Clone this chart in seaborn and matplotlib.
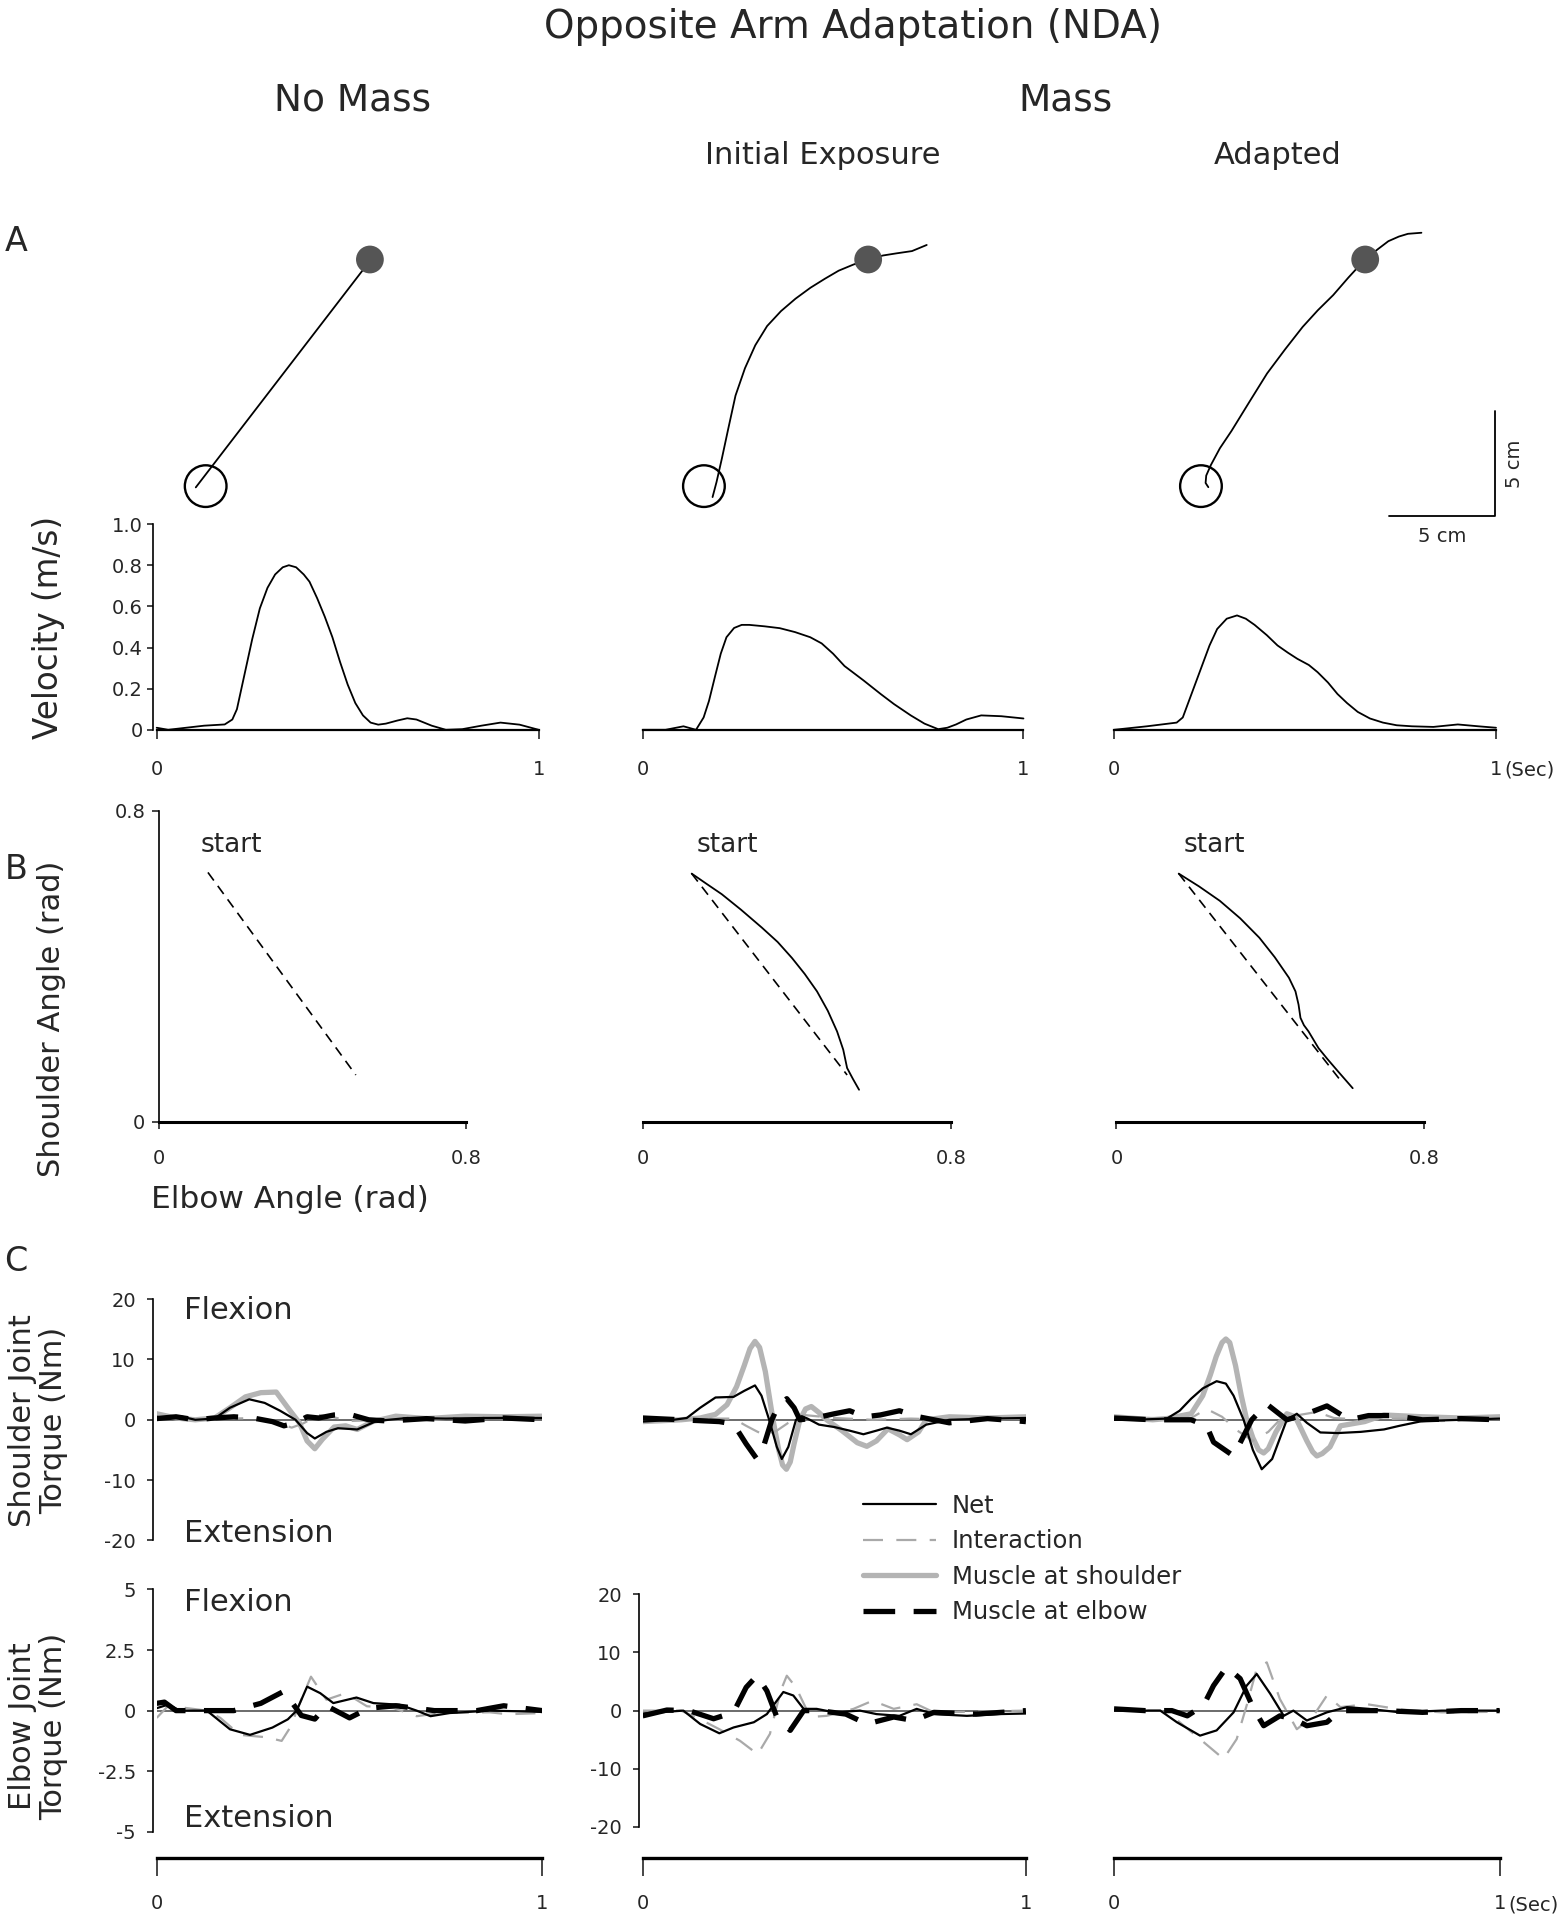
import matplotlib
matplotlib.use("Agg")
import matplotlib.pyplot as plt
from matplotlib.lines import Line2D
import seaborn as sns

sns.set_theme(style="white")
plt.rcParams['font.family'] = ['DejaVu Sans']

# ---------------- DATA ----------------
COLUMN_HEADERS = ["No Mass", "Mass"]
SUB_HEADERS = ["Initial Exposure", "Adapted"]

# A: hand paths (cm, relative to start-circle centre)
TARGET_XY = (7.8, 10.76)
TRAJ_NOMASS_X = [-0.47, 7.85, 8.1]
TRAJ_NOMASS_Y = [-0.06, 10.76, 10.9]
TRAJ_INIT_X = [0.41, 0.6, 0.85, 1.15, 1.5, 1.95, 2.44, 3.0, 3.66, 4.35, 5.06, 5.75, 6.4, 7.1, 7.79, 8.5, 9.13, 9.88, 10.58]
TRAJ_INIT_Y = [-0.52, 0.2, 1.3, 2.7, 4.3, 5.6, 6.69, 7.6, 8.31, 8.9, 9.42, 9.85, 10.23, 10.52, 10.76, 10.95, 11.05, 11.16, 11.45]
TRAJ_ADAPT_X = [0.35, 0.22, 0.25, 0.47, 0.9, 1.45, 2.3, 3.14, 4.0, 4.83, 5.55, 6.28, 7.0, 7.79, 8.4, 8.9, 9.4, 9.83, 10.47]
TRAJ_ADAPT_Y = [-0.05, 0.15, 0.5, 1.0, 1.8, 2.62, 4.0, 5.35, 6.5, 7.56, 8.35, 9.07, 9.9, 10.76, 11.25, 11.63, 11.85, 11.98, 12.03]
SCALE_CM = 5

# A: hand velocity (s, m/s)
VEL_NOMASS_T = [0, 0.03, 0.124, 0.178, 0.198, 0.21, 0.23, 0.25, 0.27, 0.29, 0.31, 0.33, 0.346, 0.365, 0.385, 0.40,
                0.42, 0.44, 0.46, 0.48, 0.50, 0.52, 0.54, 0.56, 0.58, 0.60, 0.63, 0.656, 0.68, 0.72, 0.757, 0.80,
                0.85, 0.90, 0.95, 1.0]
VEL_NOMASS = [0.01, 0.0, 0.02, 0.026, 0.05, 0.10, 0.27, 0.44, 0.59, 0.69, 0.755, 0.79, 0.80, 0.79, 0.755, 0.72,
              0.64, 0.55, 0.45, 0.33, 0.22, 0.13, 0.07, 0.035, 0.025, 0.03, 0.045, 0.056, 0.05, 0.02, 0.0, 0.003,
              0.02, 0.035, 0.025, 0.0]
VEL_INIT_T = [0, 0.06, 0.107, 0.14, 0.16, 0.174, 0.19, 0.205, 0.22, 0.24, 0.26, 0.28, 0.32, 0.36, 0.40, 0.44,
              0.47, 0.50, 0.53, 0.58, 0.625, 0.66, 0.704, 0.74, 0.776, 0.80, 0.823, 0.85, 0.889, 0.942, 1.0]
VEL_INIT = [0.0, 0.0, 0.017, 0.0, 0.06, 0.14, 0.26, 0.37, 0.45, 0.495, 0.51, 0.51, 0.503, 0.494, 0.475, 0.45,
            0.42, 0.37, 0.31, 0.24, 0.174, 0.125, 0.07, 0.03, 0.003, 0.01, 0.026, 0.05, 0.07, 0.066, 0.055]
VEL_ADAPT_T = [0, 0.086, 0.164, 0.18, 0.20, 0.23, 0.25, 0.27, 0.295, 0.322, 0.345, 0.368, 0.40, 0.428, 0.455,
               0.48, 0.51, 0.533, 0.56, 0.585, 0.61, 0.638, 0.67, 0.704, 0.74, 0.78, 0.836, 0.9, 0.954, 1.0]
VEL_ADAPT = [0.0, 0.017, 0.035, 0.06, 0.16, 0.31, 0.41, 0.49, 0.54, 0.556, 0.54, 0.51, 0.46, 0.41, 0.375,
             0.345, 0.315, 0.28, 0.23, 0.174, 0.13, 0.087, 0.055, 0.035, 0.022, 0.017, 0.014, 0.026, 0.017, 0.01]

# B: joint angles (elbow rad, shoulder rad)
B_NOMASS_DASH = ([0.127, 0.512], [0.641, 0.120])
B_INIT_DASH = ([0.127, 0.530], [0.638, 0.120])
B_INIT_SOLID = ([0.127, 0.165, 0.205, 0.255, 0.309, 0.35, 0.387, 0.42, 0.452, 0.48, 0.504, 0.52, 0.530, 0.545, 0.561],
                [0.638, 0.612, 0.585, 0.545, 0.499, 0.462, 0.421, 0.38, 0.335, 0.285, 0.232, 0.185, 0.138, 0.11, 0.082])
B_ADAPT_DASH = ([0.162, 0.580], [0.638, 0.110])
B_ADAPT_SOLID = ([0.162, 0.215, 0.269, 0.322, 0.372, 0.412, 0.449, 0.466, 0.474, 0.479, 0.488, 0.500, 0.526, 0.55, 0.577, 0.615],
                 [0.638, 0.605, 0.568, 0.523, 0.473, 0.423, 0.370, 0.335, 0.301, 0.267, 0.248, 0.232, 0.189, 0.16, 0.129, 0.086])

# C: shoulder joint torque (s, Nm)
SH_NOMASS_NET = ([0, 0.03, 0.06, 0.10, 0.15, 0.19, 0.24, 0.28, 0.32, 0.36, 0.39, 0.41, 0.44, 0.47, 0.52, 0.57, 0.65, 0.75, 0.85, 1.0],
                 [0.5, 0.2, 0.6, 0.0, 0.2, 2.0, 3.4, 2.8, 1.5, 0.0, -2.2, -3.1, -2.0, -1.4, -1.6, -0.2, 0.3, 0.2, 0.3, 0.3])
SH_NOMASS_INT = ([0, 0.1, 0.2, 0.25, 0.3, 0.35, 0.38, 0.42, 0.46, 0.5, 0.6, 0.7, 0.8, 0.9, 1.0],
                 [0.5, 0.0, 0.2, 0.3, -0.2, -1.3, -0.6, 0.8, 0.4, -0.2, 0.0, 0.3, 0.0, 0.5, 0.3])
SH_NOMASS_MSH = ([0, 0.05, 0.1, 0.15, 0.19, 0.23, 0.27, 0.31, 0.34, 0.37, 0.39, 0.41, 0.43, 0.46, 0.49, 0.52, 0.56, 0.62, 0.7, 0.8, 0.9, 1.0],
                 [1.0, 0.3, 0.0, 0.3, 2.0, 3.8, 4.5, 4.6, 2.0, -0.5, -3.5, -4.8, -3.2, -1.2, -1.0, -1.6, -0.3, 0.6, 0.2, 0.6, 0.5, 0.6])
SH_NOMASS_MEL = ([0, 0.05, 0.1, 0.15, 0.2, 0.25, 0.3, 0.33, 0.36, 0.39, 0.42, 0.46, 0.5, 0.55, 0.6, 0.7, 0.8, 0.9, 1.0],
                 [0.2, 0.5, 0.0, 0.3, 0.5, 0.3, -0.3, -1.0, -0.5, 0.5, 0.3, 0.8, 0.9, 0.0, -0.2, 0.2, -0.2, 0.3, 0.0])

SH_INIT_NET = ([0, 0.08, 0.115, 0.15, 0.19, 0.237, 0.265, 0.293, 0.31, 0.33, 0.35, 0.363, 0.38, 0.40, 0.415, 0.43, 0.46, 0.5, 0.54, 0.576, 0.61, 0.637, 0.67, 0.7, 0.74, 0.8, 0.9, 1.0],
               [-0.3, 0.0, 0.3, 2.0, 3.7, 3.8, 4.8, 5.7, 4.0, 0.0, -4.5, -6.5, -4.5, 0.0, 0.6, 0.2, -0.8, -1.2, -1.8, -2.4, -1.8, -1.3, -1.8, -2.4, -0.8, 0.0, 0.2, 0.3])
SH_INIT_INT = ([0, 0.1, 0.2, 0.237, 0.27, 0.3, 0.324, 0.35, 0.38, 0.42, 0.5, 0.6, 0.7, 0.8, 0.9, 1.0],
               [0.3, 0.0, 0.2, 0.2, -1.0, -2.0, -2.6, -1.8, -0.5, 0.8, 0.3, 0.0, 0.2, 0.0, 0.3, 0.2])
SH_INIT_MSH = ([0, 0.1, 0.15, 0.19, 0.22, 0.245, 0.265, 0.28, 0.293, 0.305, 0.32, 0.34, 0.355, 0.365, 0.375, 0.385, 0.395,
                0.41, 0.425, 0.44, 0.46, 0.48, 0.52, 0.56, 0.585, 0.61, 0.64, 0.67, 0.69, 0.72, 0.74, 0.8, 0.9, 1.0],
               [-0.3, 0.0, 0.3, 0.9, 2.5, 5.5, 9.0, 11.8, 13.0, 12.0, 8.0, 0.0, -5.0, -7.5, -8.2, -7.0, -4.0,
                0.0, 1.8, 2.2, 1.2, 0.0, -1.8, -3.8, -4.4, -3.5, -1.5, -2.5, -3.3, -2.0, 0.0, 0.5, 0.3, 0.5])
SH_INIT_MEL = ([0, 0.1, 0.2, 0.237, 0.27, 0.298, 0.315, 0.337, 0.355, 0.376, 0.395, 0.41, 0.45, 0.5, 0.54, 0.58, 0.62, 0.67, 0.72, 0.8, 0.9, 1.0],
               [0.3, 0.0, -0.3, -0.7, -4.0, -6.5, -4.5, 0.0, 2.5, 3.5, 2.0, 0.0, 0.3, 1.0, 1.5, 0.5, 0.8, 1.5, 0.5, -0.5, 0.2, -0.3])

SH_ADAPT_NET = ([0, 0.05, 0.137, 0.17, 0.2, 0.23, 0.266, 0.29, 0.31, 0.336, 0.36, 0.383, 0.41, 0.448, 0.474, 0.5, 0.535, 0.58, 0.64, 0.7, 0.74, 0.8, 0.9, 1.0],
                [0.0, 0.0, 0.2, 1.5, 3.5, 5.2, 6.4, 6.0, 4.0, 0.0, -5.0, -8.2, -6.5, 0.0, 1.0, -0.5, -2.1, -2.2, -2.0, -1.6, -1.0, -0.2, 0.0, 0.2])
SH_ADAPT_INT = ([0, 0.2, 0.24, 0.28, 0.32, 0.36, 0.4, 0.43, 0.48, 0.526, 0.57, 0.65, 0.75, 0.85, 1.0],
                [0.3, 0.3, 1.8, 0.5, -1.8, -3.5, -2.0, 0.0, 0.8, 1.3, 0.3, 0.0, 0.2, -0.2, 0.2])
SH_ADAPT_MSH = ([0, 0.1, 0.137, 0.2, 0.23, 0.25, 0.265, 0.28, 0.29, 0.30, 0.315, 0.33, 0.344, 0.36, 0.375, 0.388,
                 0.40, 0.42, 0.448, 0.47, 0.5, 0.515, 0.526, 0.54, 0.56, 0.587, 0.65, 0.7, 0.8, 0.9, 1.0],
                [0.5, 0.0, 0.2, 1.0, 4.0, 7.5, 10.5, 12.8, 13.4, 12.8, 9.0, 4.0, 0.0, -3.0, -5.0, -5.5,
                 -4.8, -2.0, 1.0, 0.5, -3.5, -5.3, -6.0, -5.6, -4.5, -1.0, -0.3, 0.8, 0.5, 0.3, 0.5])
SH_ADAPT_MEL = ([0, 0.1, 0.2, 0.24, 0.258, 0.31, 0.357, 0.396, 0.448, 0.5, 0.552, 0.61, 0.66, 0.725, 0.8, 0.9, 1.0],
                [0.3, 0.0, 0.0, -1.0, -3.7, -6.0, 0.0, 2.6, 0.0, 1.0, 2.3, 0.0, 0.7, 0.7, 0.0, 0.2, 0.0])

# C: elbow joint torque (s, Nm)
EL_NOMASS_NET = ([0, 0.03, 0.06, 0.13, 0.19, 0.242, 0.3, 0.34, 0.363, 0.39, 0.424, 0.458, 0.518, 0.562, 0.63, 0.674, 0.71, 0.76, 0.864, 1.0],
                 [0.1, 0.25, 0.0, 0.0, -0.77, -1.0, -0.7, -0.36, 0.0, 0.99, 0.72, 0.31, 0.54, 0.31, 0.24, 0.0, -0.23, -0.1, 0.0, -0.05])
EL_NOMASS_INT = ([0, 0.03, 0.13, 0.165, 0.216, 0.285, 0.324, 0.35, 0.363, 0.40, 0.44, 0.49, 0.545, 0.615, 0.674, 0.735, 0.864, 0.91, 1.0],
                 [-0.3, 0.2, 0.0, -0.3, -1.0, -1.1, -1.25, -0.6, 0.0, 1.4, 0.45, 0.72, 0.18, 0.1, -0.23, -0.1, -0.07, -0.15, -0.1])
EL_NOMASS_MEL = ([0, 0.02, 0.05, 0.1, 0.2, 0.27, 0.33, 0.375, 0.41, 0.44, 0.5, 0.55, 0.62, 0.72, 0.83, 0.9, 1.0],
                 [0.3, 0.35, 0.0, 0.0, 0.0, 0.3, 0.8, -0.2, -0.35, 0.2, -0.3, 0.1, 0.2, 0.0, 0.0, 0.2, 0.0])

EL_INIT_NET = ([0, 0.106, 0.15, 0.2, 0.237, 0.29, 0.324, 0.367, 0.393, 0.42, 0.454, 0.5, 0.567, 0.61, 0.67, 0.715, 0.76, 0.846, 0.93, 1.0],
               [-0.5, 0.0, -2.3, -3.9, -2.9, -2.0, -0.6, 3.2, 2.6, 0.3, 0.3, -0.3, 0.0, -0.6, -0.9, 0.3, -0.6, -0.9, -0.6, -0.5])
EL_INIT_INT = ([0, 0.1, 0.15, 0.2, 0.254, 0.3, 0.332, 0.36, 0.376, 0.4, 0.437, 0.48, 0.55, 0.6, 0.655, 0.715, 0.76, 0.85, 1.0],
               [0.0, 0.0, -1.5, -3.2, -5.2, -7.5, -4.0, 3.4, 6.0, 4.0, -1.1, -0.9, 0.3, 1.7, 0.3, 1.1, -0.3, -0.2, 0.0])
EL_INIT_MEL = ([0, 0.063, 0.12, 0.185, 0.237, 0.27, 0.298, 0.324, 0.35, 0.385, 0.42, 0.46, 0.53, 0.585, 0.655, 0.707, 0.76, 0.87, 1.0],
               [-0.9, 0.1, 0.0, -1.4, -0.3, 4.0, 6.0, 3.4, -1.1, -3.4, 0.0, 0.0, -0.6, -2.3, -1.1, -1.7, -0.3, -0.6, 0.0])

EL_ADAPT_NET = ([0, 0.12, 0.163, 0.223, 0.266, 0.31, 0.344, 0.37, 0.405, 0.44, 0.465, 0.5, 0.552, 0.604, 0.66, 0.742, 0.85, 1.0],
                [0.0, 0.0, -2.0, -4.3, -3.4, -0.3, 4.3, 6.3, 2.9, -0.9, 0.0, -1.7, -0.3, 0.6, 0.3, -0.3, 0.0, 0.0])
EL_ADAPT_INT = ([0, 0.12, 0.154, 0.223, 0.284, 0.318, 0.344, 0.37, 0.396, 0.43, 0.474, 0.517, 0.552, 0.587, 0.656, 0.742, 0.85, 1.0],
                [0.0, 0.0, -1.1, -4.9, -8.3, -4.9, 0.9, 7.2, 8.3, 2.0, -3.2, -0.9, 2.6, 0.6, 1.1, 0.2, -0.3, -0.2])
EL_ADAPT_MEL = ([0, 0.08, 0.15, 0.19, 0.232, 0.258, 0.292, 0.327, 0.362, 0.388, 0.43, 0.465, 0.5, 0.552, 0.587, 0.7, 0.8, 0.9, 1.0],
                [0.3, 0.0, 0.0, -0.9, 0.9, 4.3, 7.5, 5.5, 0.3, -2.6, -0.9, -1.4, -2.6, -2.0, 0.0, 0.0, -0.3, 0.0, 0.0])

SERIES_NAMES = ["Net", "Interaction", "Muscle at shoulder", "Muscle at elbow"]

# ---------------- STYLE / LAYOUT ----------------
STY = {
    "Net": dict(color="black", lw=1.6, ls="-"),
    "Interaction": dict(color="#a9a9a9", lw=1.6, ls=(0, (9, 6))),
    "Muscle at shoulder": dict(color="#b4b4b4", lw=3.8, ls="-"),
    "Muscle at elbow": dict(color="black", lw=3.8, ls=(0, (6, 3.5))),
}

W, H = 1280, 1568
fig = plt.figure(figsize=(15.67, 19.2), dpi=100)


def fbox(x0, ytop, x1, ybot):
    return [x0 / W, 1 - ybot / H, (x1 - x0) / W, (ybot - ytop) / H]


def ftext(x, y, s, **kw):
    kw.setdefault("ha", "center")
    kw.setdefault("va", "center")
    fig.text(x / W, 1 - y / H, s, **kw)


def line(ax, x, y, color="black", lw=1.3, ls="-", clip=True, z=2):
    sns.lineplot(x=list(x), y=list(y), ax=ax, sort=False, estimator=None, legend=False,
                 color=color, linewidth=lw, linestyle=ls, clip_on=clip, zorder=z)


def spines(ax, left=False, bottom=False, lw=1.2):
    for k in ["top", "right", "left", "bottom"]:
        ax.spines[k].set_visible(False)
    if left:
        ax.spines["left"].set_visible(True)
        ax.spines["left"].set_linewidth(lw)
        ax.spines["left"].set_color("black")
    if bottom:
        ax.spines["bottom"].set_visible(True)
        ax.spines["bottom"].set_color("black")
    ax.set_facecolor("none")
    ax.set_xlabel("")
    ax.set_ylabel("")
    ax.grid(False)


# Titles
ftext(697, 22, "Opposite Arm Adaptation (NDA)", fontsize=28)
ftext(288, 82, COLUMN_HEADERS[0], fontsize=27)
ftext(870, 82, COLUMN_HEADERS[1], fontsize=27)
ftext(672, 127, SUB_HEADERS[0], fontsize=22)
ftext(1044, 127, SUB_HEADERS[1], fontsize=22)
for lab, yy in [("A", 197), ("B", 710), ("C", 1030)]:
    ftext(13, yy, lab, fontsize=24)

# ---- A: trajectories ----
TRAJ = [(TRAJ_NOMASS_X, TRAJ_NOMASS_Y), (TRAJ_INIT_X, TRAJ_INIT_Y), (TRAJ_ADAPT_X, TRAJ_ADAPT_Y)]
TRAJ_CX = [168, 575, 981]
CY = 397
PXCM = 17.2
for i, (tx, ty) in enumerate(TRAJ):
    cx = TRAJ_CX[i]
    ax = fig.add_axes(fbox(cx - 60, 165, cx + 275, 430))
    ax.set_xlim(-60 / PXCM, 275 / PXCM)
    ax.set_ylim(-(430 - CY) / PXCM, (CY - 165) / PXCM)
    ax.axis("off")
    line(ax, tx, ty, lw=1.3, clip=False)
    ax.scatter([0], [0], s=900, facecolors="none", edgecolors="black", linewidths=1.7, zorder=3)
    ax.scatter([TARGET_XY[0]], [TARGET_XY[1]], s=400, color="#555555", edgecolors="none", zorder=3)
    if i == 2:
        bx, by = 13.95, -1.42
        line(ax, [bx - SCALE_CM, bx, bx], [by, by, by + SCALE_CM], lw=1.3, clip=False)
        ax.text(bx + 0.95, by + SCALE_CM / 2, f"{SCALE_CM} cm", rotation=90, ha="center", va="center", fontsize=14)
        ax.text(bx - SCALE_CM / 2, by - 0.95, f"{SCALE_CM} cm", ha="center", va="center", fontsize=14)

# ---- A: velocity ----
VEL = [(VEL_NOMASS_T, VEL_NOMASS), (VEL_INIT_T, VEL_INIT), (VEL_ADAPT_T, VEL_ADAPT)]
VEL_X = [(128, 440), (525, 836), (910, 1222)]
for i, (t, v) in enumerate(VEL):
    x0, x1 = VEL_X[i]
    ax = fig.add_axes(fbox(x0, 428, x1, 596))
    line(ax, t, v, lw=1.3, clip=False)
    ax.set_xlim(0, 1)
    ax.set_ylim(0, 1)
    spines(ax, left=(i == 0), bottom=True)
    ax.spines["bottom"].set_linewidth(1.6)
    ax.set_xticks([0, 1])
    ax.set_xticklabels(["0", "1"])
    ax.tick_params(axis="x", direction="out", length=6.5, width=1.2, pad=15, labelsize=14, bottom=True)
    if i == 0:
        ax.spines["left"].set_position(("outward", 3))
        ax.set_yticks([0, 0.2, 0.4, 0.6, 0.8, 1.0])
        ax.set_yticklabels(["0", "0.2", "0.4", "0.6", "0.8", "1.0"])
        ax.tick_params(axis="y", direction="out", length=4, width=1.2, pad=3, labelsize=14, left=True)
    else:
        ax.set_yticks([])
    if i == 2:
        ax.annotate("(Sec)", xy=(1, 0), xycoords=("data", "axes fraction"), xytext=(6, -29),
                    textcoords="offset points", ha="left", va="center", fontsize=14)
ftext(40, 512, "Velocity (m/s)", rotation=90, fontsize=23.5)

# ---- B: joint angle plots ----
B_X = [(130, 381), (525, 777), (912, 1163)]
B_DATA = [(B_NOMASS_DASH, None), (B_INIT_DASH, B_INIT_SOLID), (B_ADAPT_DASH, B_ADAPT_SOLID)]
START_X = [189, 594, 992]
for i, (dash, solid) in enumerate(B_DATA):
    x0, x1 = B_X[i]
    ax = fig.add_axes(fbox(x0, 662, x1, 916))
    line(ax, dash[0], dash[1], lw=1.2, ls=(0, (6, 4)), clip=False)
    if solid is not None:
        line(ax, solid[0], solid[1], lw=1.3, clip=False)
    ax.set_xlim(0, 0.8)
    ax.set_ylim(0, 0.8)
    spines(ax, left=(i == 0), bottom=True)
    ax.spines["bottom"].set_linewidth(2.2)
    ax.set_xticks([0, 0.8])
    ax.set_xticklabels(["0", "0.8"])
    ax.tick_params(axis="x", direction="out", length=5, width=1.2, pad=15, labelsize=14, bottom=True)
    if i == 0:
        ax.set_yticks([0, 0.8])
        ax.set_yticklabels(["0", "0.8"])
        ax.tick_params(axis="y", direction="out", length=5, width=1.2, pad=5, labelsize=14, left=True)
    else:
        ax.set_yticks([])
    ftext(START_X[i], 690, "start", fontsize=19)
ftext(42, 832, "Shoulder Angle (rad)", rotation=90, fontsize=22)
ftext(237, 980, "Elbow Angle (rad)", fontsize=22.5)

# ---- C: torques ----
T_X = [(128, 443), (525, 838), (910, 1225)]
SHOULDER = [
    [SH_NOMASS_NET, SH_NOMASS_INT, SH_NOMASS_MSH, SH_NOMASS_MEL],
    [SH_INIT_NET, SH_INIT_INT, SH_INIT_MSH, SH_INIT_MEL],
    [SH_ADAPT_NET, SH_ADAPT_INT, SH_ADAPT_MSH, SH_ADAPT_MEL],
]
ELBOW = [
    [EL_NOMASS_NET, EL_NOMASS_INT, None, EL_NOMASS_MEL],
    [EL_INIT_NET, EL_INIT_INT, None, EL_INIT_MEL],
    [EL_ADAPT_NET, EL_ADAPT_INT, None, EL_ADAPT_MEL],
]
DRAW_ORDER = [2, 1, 3, 0]


def torque_panel(ax, series):
    ax.axhline(0, color="#444444", lw=1.1, zorder=1)
    for k in DRAW_ORDER:
        s = series[k]
        if s is None:
            continue
        st = STY[SERIES_NAMES[k]]
        line(ax, s[0], s[1], color=st["color"], lw=st["lw"], ls=st["ls"], z=2 + (k == 0))
    ax.set_xlim(0, 1)
    ax.set_xticks([])


for i in range(3):
    x0, x1 = T_X[i]
    ax = fig.add_axes(fbox(x0, 1061, x1, 1258))
    torque_panel(ax, SHOULDER[i])
    ax.set_ylim(-20, 20)
    spines(ax, left=(i == 0))
    if i == 0:
        ax.spines["left"].set_position(("outward", 3))
        ax.set_yticks([20, 10, 0, -10, -20])
        ax.set_yticklabels(["20", "10", "0", "-10", "-20"])
        ax.tick_params(axis="y", direction="out", length=4, width=1.2, pad=8, labelsize=14, left=True)
    else:
        ax.set_yticks([])

for i in range(3):
    x0, x1 = T_X[i]
    if i == 0:
        ax = fig.add_axes(fbox(x0, 1298, x1, 1496))
        torque_panel(ax, ELBOW[i])
        ax.set_ylim(-5, 5)
        ticks, labels = [5, 2.5, 0, -2.5, -5], ["5", "2.5", "0", "-2.5", "-5"]
    else:
        ax = fig.add_axes(fbox(x0, 1302, x1, 1492))
        torque_panel(ax, ELBOW[i])
        ax.set_ylim(-20, 20)
        ticks, labels = [20, 10, 0, -10, -20], ["20", "10", "0", "-10", "-20"]
    spines(ax, left=(i < 2))
    if i < 2:
        ax.spines["left"].set_position(("outward", 3))
        ax.set_yticks(ticks)
        ax.set_yticklabels(labels)
        ax.tick_params(axis="y", direction="out", length=4, width=1.2, pad=8, labelsize=14, left=True)
    else:
        ax.set_yticks([])

# time axes under C
for i in range(3):
    x0, x1 = T_X[i]
    ax = fig.add_axes(fbox(x0, 1500, x1, 1517))
    ax.set_xlim(0, 1)
    ax.set_ylim(0, 1)
    spines(ax, bottom=True)
    ax.spines["bottom"].set_linewidth(2.4)
    ax.set_yticks([])
    ax.set_xticks([0, 1])
    ax.set_xticklabels(["0", "1"])
    ax.tick_params(axis="x", direction="out", length=13, width=1.2, pad=13, labelsize=14, bottom=True)
    if i == 2:
        ax.annotate("(Sec)", xy=(1, 0), xycoords=("data", "axes fraction"), xytext=(6, -34),
                    textcoords="offset points", ha="left", va="center", fontsize=14)

ftext(31, 1160, "Shoulder Joint\nTorque (Nm)", rotation=90, fontsize=22, linespacing=1.1)
ftext(31, 1410, "Elbow Joint\nTorque (Nm)", rotation=90, fontsize=22, linespacing=1.1)
ftext(150, 1070, "Flexion", ha="left", fontsize=22)
ftext(150, 1252, "Extension", ha="left", fontsize=22)
ftext(150, 1309, "Flexion", ha="left", fontsize=22)
ftext(150, 1485, "Extension", ha="left", fontsize=22)

# legend
handles = [Line2D([0], [0], color=STY[n]["color"], lw=STY[n]["lw"], ls=STY[n]["ls"]) for n in SERIES_NAMES]
fig.legend(handles, SERIES_NAMES, loc="upper left", bbox_to_anchor=(705 / W, 1 - 1220 / H),
           bbox_transform=fig.transFigure, frameon=False, fontsize=17.5, handlelength=3.0,
           handletextpad=0.66, labelspacing=0.47, borderpad=0, borderaxespad=0)

fig.savefig("out.png", dpi=100, facecolor="white")
